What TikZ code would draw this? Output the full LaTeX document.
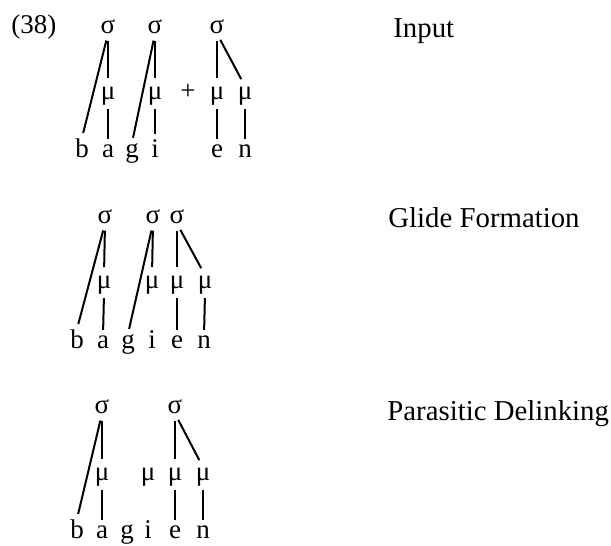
\documentclass[tikz,border=0pt]{standalone}
\usepackage{fontspec}
\setmainfont{Liberation Serif}
\usepackage{tikz}
\newcommand{\segsize}{\fontsize{13.5}{16}\selectfont}
\newcommand{\capsize}{\fontsize{14.4}{17}\selectfont}

\begin{document}
\begin{tikzpicture}[x=0.5pt, y=-0.5pt,
	seg/.style={inner sep=0pt, anchor=base, font=\segsize},
	caption/.style={inner sep=0pt, anchor=base west, font=\capsize},
	tie/.style={line width=1pt, shorten <=3.5pt, shorten >=4pt},
	slant/.style={line width=1pt, shorten <=3.5pt, shorten >=2.5pt},
	drop/.style={line width=1pt, shorten <=2pt, shorten >=2.5pt}]
		\useasboundingbox (0,0) rectangle (611,546);
		% Example number
		\node[caption, font=\segsize] at (11,33) (num) {(38)};
		% Input
		\node[seg] at (108,33) (s1in) {σ};
		\node[seg] at (155,33) (s2in) {σ};
		\node[seg] at (217,33) (s3in) {σ};
		\node[seg] at (108,99) (m1in) {μ};
		\node[seg] at (155,99) (m2in) {μ};
		\node[seg] at (188,99) (plus) {+};
		\node[seg] at (217,99) (m3in) {μ};
		\node[seg] at (245,99) (m4in) {μ};
		\node[seg] at (82,157) (bin) {b};
		\node[seg] at (108,157) (ain) {a};
		\node[seg] at (132,157) (gin) {g};
		\node[seg] at (155,157) (iin) {i};
		\node[seg] at (217,157) (ein) {e};
		\node[seg] at (245,157) (nin) {n};
		\draw[slant] (s1in.south) -- (bin.north);
		\draw[tie] (s1in.south) -- (m1in.north);
		\draw[drop] (m1in.south) -- (ain.north);
		\draw[slant] (s2in.south) -- (gin.north);
		\draw[tie] (s2in.south) -- (m2in.north);
		\draw[drop] (m2in.south) -- (iin.north);
		\draw[tie] (s3in.south) -- (m3in.north);
		\draw[tie] (s3in.south) -- (m4in.north);
		\draw[drop] (m3in.south) -- (ein.north);
		\draw[drop] (m4in.south) -- (nin.north);
		\node[caption] at (393,38) (capin) {Input};
		% Glide formation
		\node[seg] at (105,223) (s1gl) {σ};
		\node[seg] at (153,223) (s2gl) {σ};
		\node[seg] at (177,223) (s3gl) {σ};
		\node[seg] at (104,288) (m1gl) {μ};
		\node[seg] at (152,288) (m2gl) {μ};
		\node[seg] at (177,288) (m3gl) {μ};
		\node[seg] at (205,288) (m4gl) {μ};
		\node[seg] at (77,348) (bgl) {b};
		\node[seg] at (103,348) (agl) {a};
		\node[seg] at (128,348) (ggl) {g};
		\node[seg] at (152,348) (igl) {i};
		\node[seg] at (177,348) (egl) {e};
		\node[seg] at (204,348) (ngl) {n};
		\draw[slant] (s1gl.south) -- (bgl.north);
		\draw[tie] (s1gl.south) -- (m1gl.north);
		\draw[drop] (m1gl.south) -- (agl.north);
		\draw[slant] (s2gl.south) -- (ggl.north);
		\draw[tie] (s2gl.south) -- (m2gl.north);
		\draw[tie] (s3gl.south) -- (m3gl.north);
		\draw[tie] (s3gl.south) -- (m4gl.north);
		\draw[drop] (m3gl.south) -- (egl.north);
		\draw[drop] (m4gl.south) -- (ngl.north);
		\node[caption] at (388,227) (capgl) {Glide Formation};
		% Parasitic delinking
		\node[seg] at (102,413) (s1pd) {σ};
		\node[seg] at (175,413) (s2pd) {σ};
		\node[seg] at (102,480) (m1pd) {μ};
		\node[seg] at (148,480) (m2pd) {μ};
		\node[seg] at (175,480) (m3pd) {μ};
		\node[seg] at (203,480) (m4pd) {μ};
		\node[seg] at (77,538) (bpd) {b};
		\node[seg] at (102,538) (apd) {a};
		\node[seg] at (127,538) (gpd) {g};
		\node[seg] at (148,538) (ipd) {i};
		\node[seg] at (175,538) (epd) {e};
		\node[seg] at (203,538) (npd) {n};
		\draw[slant] (s1pd.south) -- (bpd.north);
		\draw[tie] (s1pd.south) -- (m1pd.north);
		\draw[drop] (m1pd.south) -- (apd.north);
		\draw[tie] (s2pd.south) -- (m3pd.north);
		\draw[tie] (s2pd.south) -- (m4pd.north);
		\draw[drop] (m3pd.south) -- (epd.north);
		\draw[drop] (m4pd.south) -- (npd.north);
		\node[caption] at (387,420) (cappd) {Parasitic Delinking};
	\end{tikzpicture}
\end{document}
